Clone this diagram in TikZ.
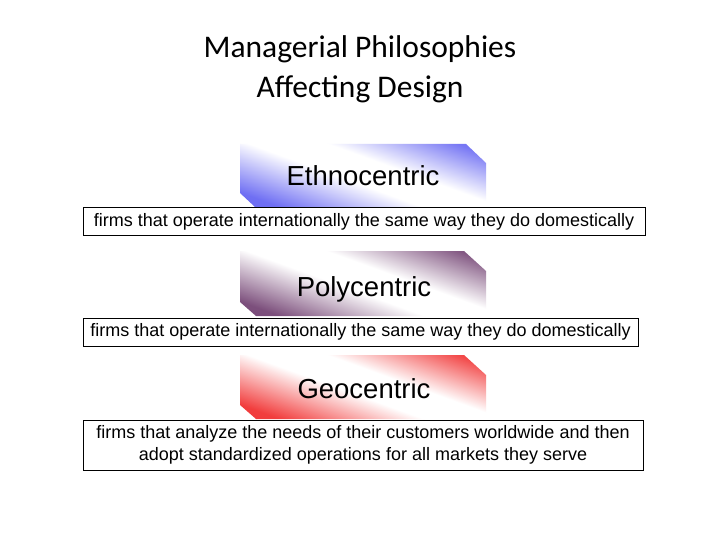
\documentclass[tikz,border=0pt]{standalone}
\usepackage{fontspec}
\setmainfont{Liberation Sans}
\newfontfamily\titlefont{Carlito}
\definecolor{ethblue}{RGB}{95,95,242}
\definecolor{polypurple}{RGB}{110,60,110}
\definecolor{geored}{RGB}{240,40,40}
\pgfdeclareverticalshading{ethshade}{100bp}{color(0bp)=(ethblue); color(24bp)=(ethblue!90); color(46bp)=(white); color(58bp)=(white); color(78bp)=(ethblue!85); color(100bp)=(ethblue)}
\pgfdeclareverticalshading{polyshade}{100bp}{color(0bp)=(polypurple); color(24bp)=(polypurple!90); color(46bp)=(white); color(58bp)=(white); color(78bp)=(polypurple!85); color(100bp)=(polypurple)}
\pgfdeclareverticalshading{geoshade}{100bp}{color(0bp)=(geored); color(24bp)=(geored!90); color(46bp)=(white); color(58bp)=(white); color(78bp)=(geored!85); color(100bp)=(geored)}
\begin{document}
\begin{tikzpicture}[x=1pt,y=-1pt]
	\tikzstyle{banner}=[shading=#1,shading angle=-20]
	\tikzstyle{label}=[font=\fontsize{27.5}{30}\selectfont,anchor=base,inner sep=0pt]
	\tikzstyle{desc}=[draw=black,line width=1pt,font=\fontsize{18}{22}\selectfont,align=center,inner sep=0pt]
	\tikzstyle{heading}=[font=\titlefont\fontsize{31.5}{36}\selectfont,anchor=base,inner sep=0pt]
	\useasboundingbox[fill=white] (0,0) rectangle (720,540);
	% title
	\node [heading] (title1) at (360,58) {Managerial Philosophies};
	\node [heading] (title2) at (360,98) {Affecting Design};
	% banners
	\begin{scope}
		\shade [banner=ethshade] (240,144) -- (466,144) -- (486,163) -- (486,207) -- (255,207) -- (240,193) -- cycle;
		\node [label] (eth) at (363,186) {Ethnocentric};
		\node [desc,minimum width=562,minimum height=27] (ethdesc) at (364,221.5)
			{firms that operate internationally the same way they do domestically};
	\end{scope}
	\begin{scope}
		\shade [banner=polyshade] (240,251) -- (464,251) -- (486,271) -- (486,316) -- (256,316) -- (240,302) -- cycle;
		\node [label] (poly) at (364,296) {Polycentric};
		\node [desc,minimum width=555,minimum height=28] (polydesc) at (360.5,332)
			{firms that operate internationally the same way they do domestically};
	\end{scope}
	\begin{scope}
		\shade [banner=geoshade] (240,355) -- (464,355) -- (486,375) -- (486,419) -- (256,419) -- (240,405) -- cycle;
		\node [label] (geo) at (364,398) {Geocentric};
		\node [desc,minimum width=560,minimum height=50] (geodesc) at (363,445)
			{firms that analyze the needs of their customers worldwide and then\\adopt standardized operations for all markets they serve};
	\end{scope}
\end{tikzpicture}
\end{document}
